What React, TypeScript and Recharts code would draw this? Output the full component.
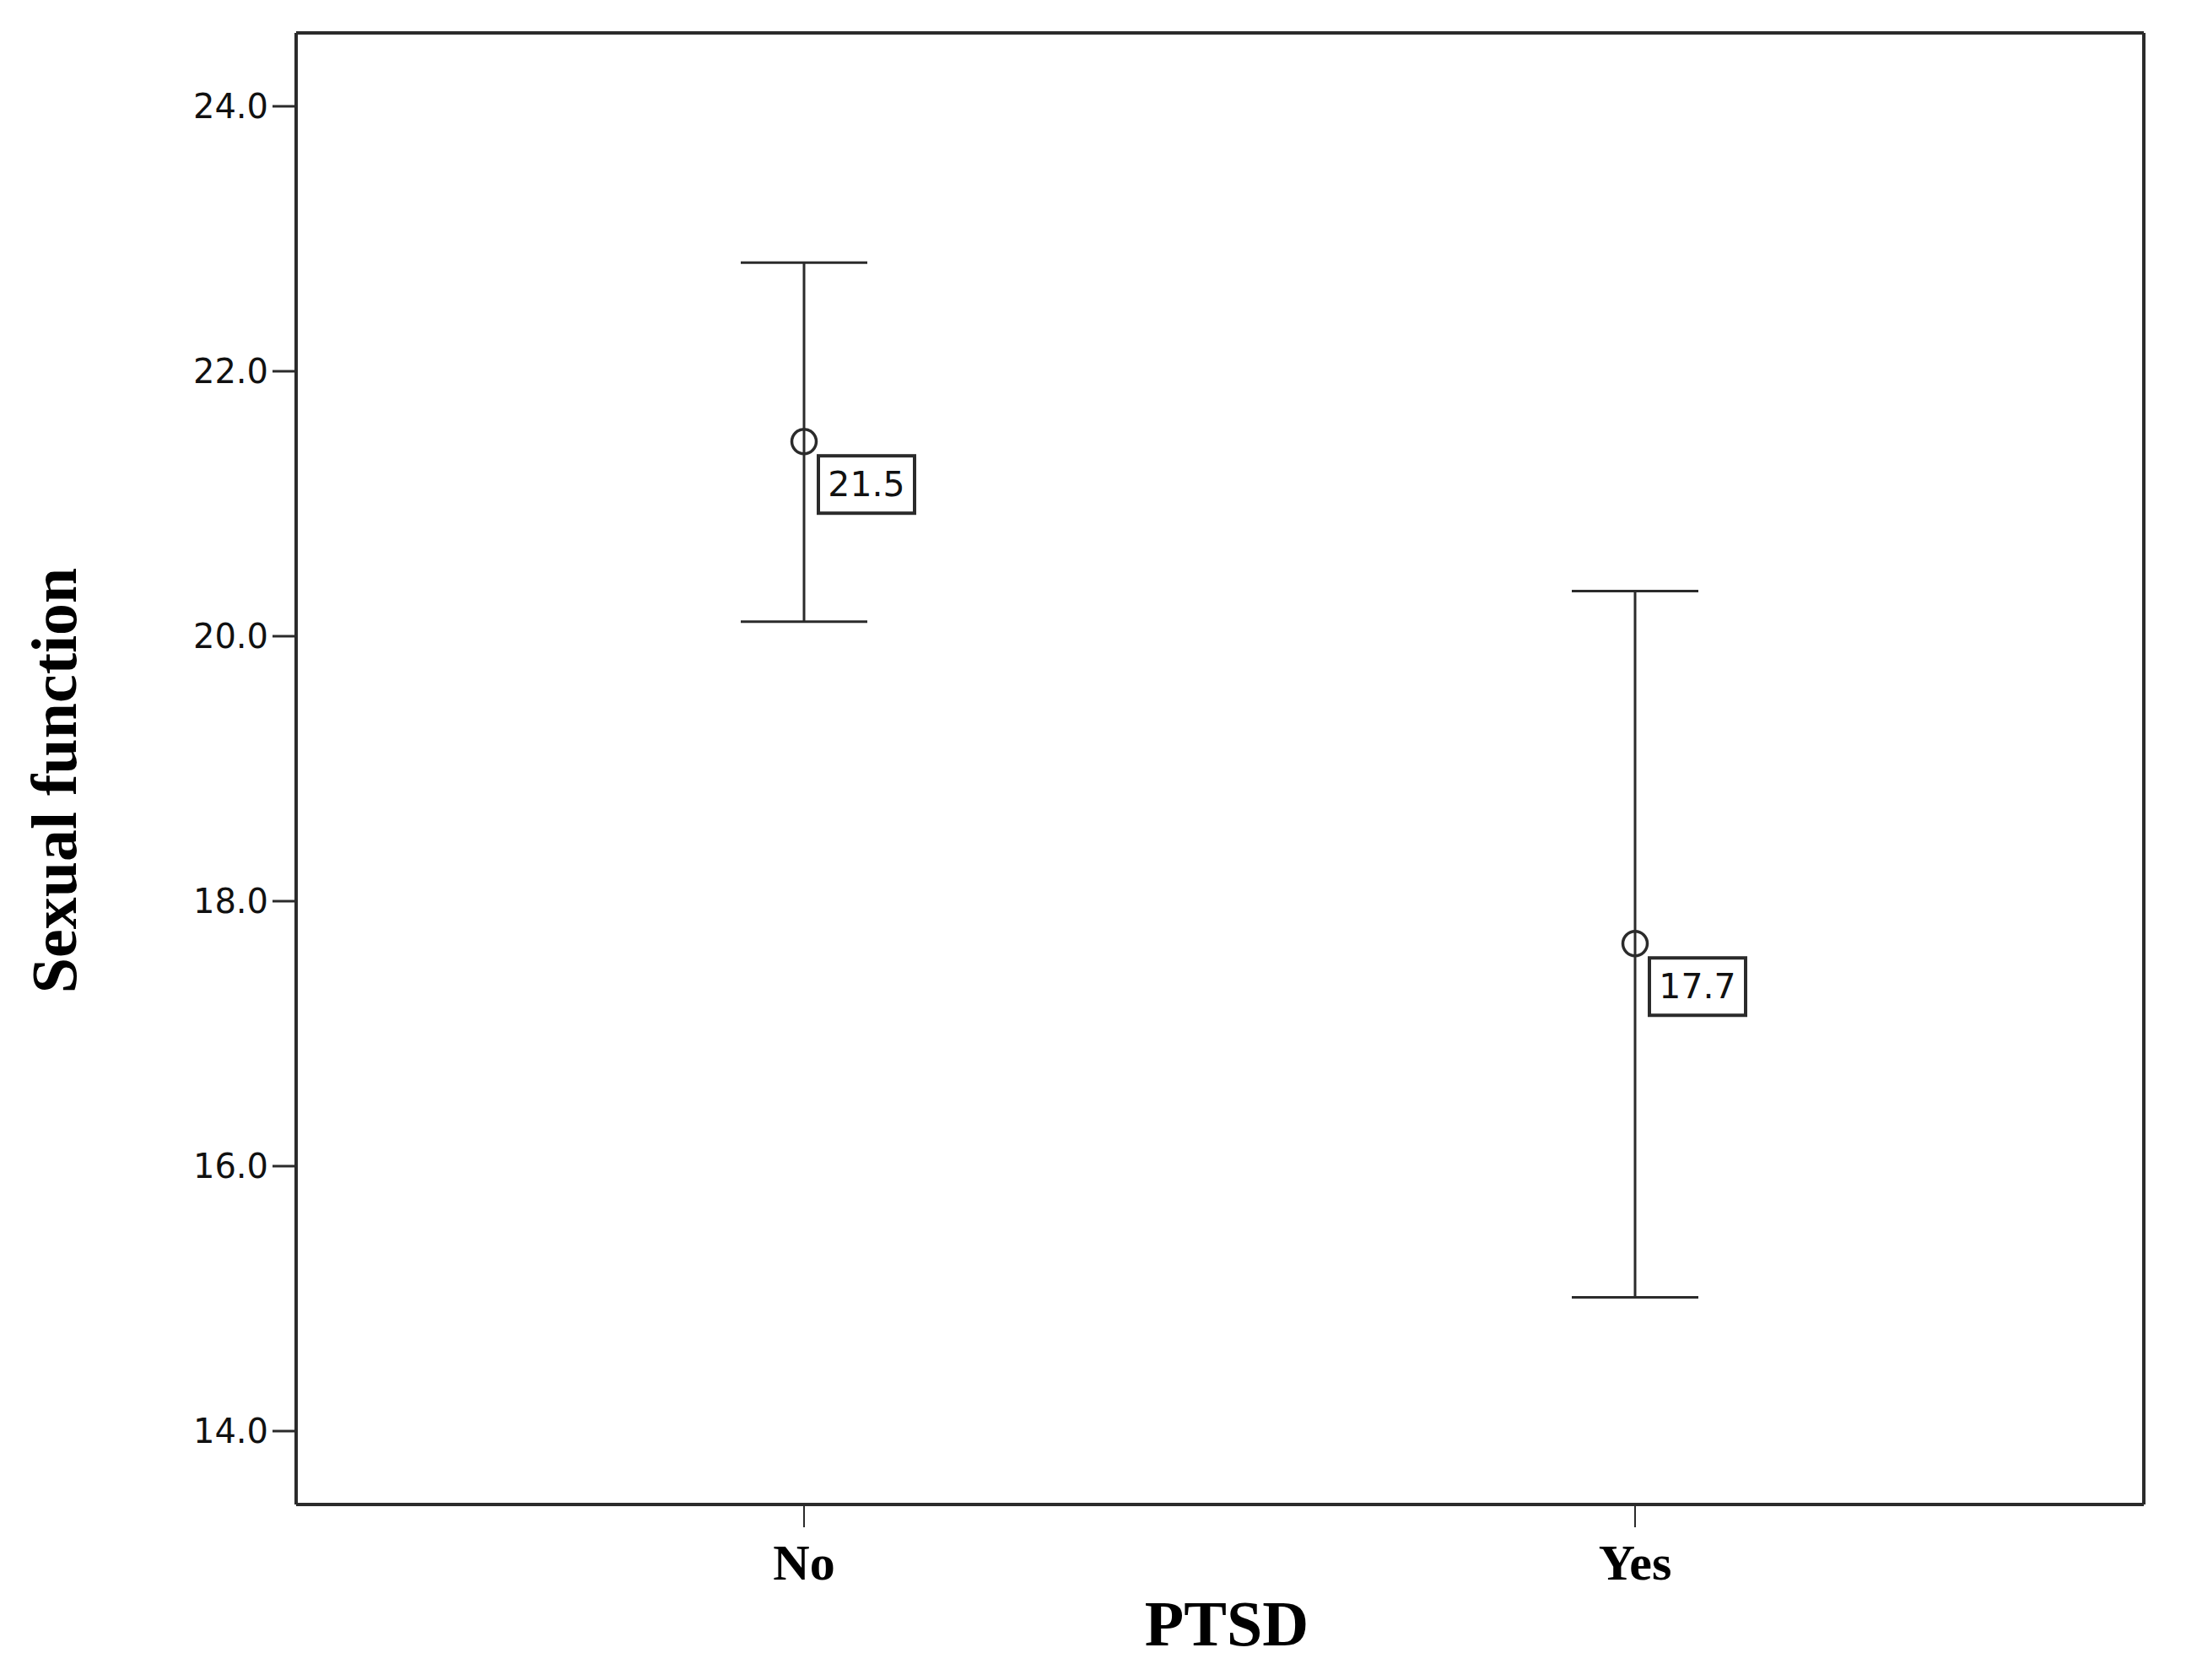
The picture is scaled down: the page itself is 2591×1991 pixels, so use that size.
import React from 'react';
import { ComposedChart, Scatter, ErrorBar, XAxis, YAxis, Label } from 'recharts';

const categories = ['No', 'Yes'];
const means = [21.47, 17.68];
const lowerBounds = [20.11, 15.01];
const upperBounds = [22.82, 20.34];
const yTicks = [14, 16, 18, 20, 22, 24];
const yDomain = [13.446, 24.554];

const data = categories.map((c, i) => ({
  category: c,
  mean: means[i],
  ci: [means[i] - lowerBounds[i], upperBounds[i] - means[i]],
}));

const INK = '#2b2b2b';

const MeanShape = (props: any) => {
  const { cx, cy, payload } = props;
  if (cx == null || cy == null) return null;
  const bx = cx + 17;
  const by = cy + 17;
  const bw = 114;
  const bh = 68;
  return (
    <g>
      <circle cx={cx} cy={cy} r={14.5} fill="none" stroke={INK} strokeWidth={3.5} />
      <rect x={bx} y={by} width={bw} height={bh} fill="#fff" stroke={INK} strokeWidth={4} />
      <text
        x={bx + bw / 2}
        y={by + bh / 2}
        textAnchor="middle"
        dominantBaseline="central"
        fontFamily="DejaVu Sans"
        fontSize={41}
        fill="#111"
      >
        {payload.mean.toFixed(1)}
      </text>
    </g>
  );
};

const XTitle = (props: any) => {
  const vb = props.viewBox || {};
  return (
    <text
      x={vb.x + vb.width / 2 + 8}
      y={vb.y + 167}
      textAnchor="middle"
      fontFamily="Liberation Serif"
      fontWeight="bold"
      fontSize={76}
      fill="#000"
    >
      PTSD
    </text>
  );
};

const YTitle = (props: any) => {
  const vb = props.viewBox || {};
  const x = 82;
  const y = vb.y + vb.height / 2 + 14;
  return (
    <text
      x={x}
      y={y}
      transform={`rotate(-90, ${x}, ${y})`}
      textAnchor="middle"
      fontFamily="Liberation Serif"
      fontWeight="bold"
      fontSize={76}
      fill="#000"
    >
      Sexual function
    </text>
  );
};

export default function App() {
  return (
    <div style={{ width: 2583, height: 1983, background: '#fff' }}>
      <ComposedChart
        width={2583}
        height={1983}
        data={data}
        margin={{ top: 30, right: 49, bottom: 28, left: 93 }}
      >
        <XAxis
          dataKey="category"
          type="category"
          scale="point"
          padding={{ left: 602, right: 603 }}
          height={180}
          axisLine={{ stroke: INK, strokeWidth: 4 }}
          tickLine={{ stroke: INK, strokeWidth: 2 }}
          tickSize={27}
          tickMargin={19}
          tick={{ fontFamily: 'Liberation Serif', fontWeight: 'bold', fontSize: 60, fill: '#000' }}
        >
          <Label content={<XTitle />} />
        </XAxis>
        <XAxis
          xAxisId="top"
          dataKey="category"
          orientation="top"
          height={1}
          tick={false}
          tickLine={false}
          axisLine={{ stroke: INK, strokeWidth: 4 }}
        />
        <YAxis
          type="number"
          domain={yDomain}
          allowDataOverflow
          ticks={yTicks}
          width={250}
          tickFormatter={(v: number) => v.toFixed(1)}
          axisLine={{ stroke: INK, strokeWidth: 4 }}
          tickLine={{ stroke: INK, strokeWidth: 3 }}
          tickSize={28}
          tickMargin={5}
          tick={{ fontFamily: 'DejaVu Sans', fontSize: 40, fill: '#111' }}
        >
          <Label content={<YTitle />} />
        </YAxis>
        <YAxis
          yAxisId="right"
          orientation="right"
          type="number"
          domain={[0, 1]}
          width={1}
          tick={false}
          tickLine={false}
          axisLine={{ stroke: INK, strokeWidth: 4 }}
        />
        <Scatter dataKey="mean" isAnimationActive={false} shape={<MeanShape />}>
          <ErrorBar dataKey="ci" direction="y" width={75} stroke={INK} strokeWidth={3} isAnimationActive={false} />
        </Scatter>
      </ComposedChart>
    </div>
  );
}
